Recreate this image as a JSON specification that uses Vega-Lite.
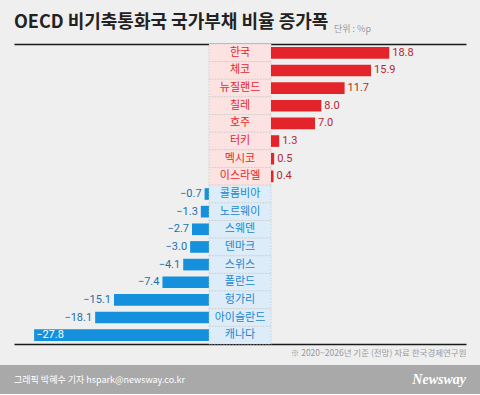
{
  "$schema": "https://vega.github.io/schema/vega-lite/v6.json",
  "background": "#efefef",
  "padding": {"top": 14, "left": 0, "right": 0, "bottom": 0},
  "config": {
    "view": {"stroke": null},
    "axis": {"ticks": false, "labels": false, "grid": false, "domainColor": "#1a1a1a", "domainWidth": 1.5},
    "title": {"font": "Noto Sans CJK KR"}
  },
  "data": {"values": [
    {"country": "한국", "value": 18.8},
    {"country": "체코", "value": 15.9},
    {"country": "뉴질랜드", "value": 11.7},
    {"country": "칠레", "value": 8.0},
    {"country": "호주", "value": 7.0},
    {"country": "터키", "value": 1.3},
    {"country": "멕시코", "value": 0.5},
    {"country": "이스라엘", "value": 0.4},
    {"country": "콜롬비아", "value": -0.7},
    {"country": "노르웨이", "value": -1.3},
    {"country": "스웨덴", "value": -2.7},
    {"country": "덴마크", "value": -3.0},
    {"country": "스위스", "value": -4.1},
    {"country": "폴란드", "value": -7.4},
    {"country": "헝가리", "value": -15.1},
    {"country": "아이슬란드", "value": -18.1},
    {"country": "캐나다", "value": -27.8}
  ]},
  "spacing": 8,
  "vconcat": [
    {
      "bounds": "flush",
      "spacing": 0,
      "resolve": {"scale": {"x": "independent", "y": "independent"}},
      "hconcat": [
        {"width": 14, "height": 300, "mark": {"type": "point", "opacity": 0}, "encoding": {}},
        {
          "width": 195, "height": 300,
          "title": {"text": "OECD 비기축통화국 국가부채 비율 증가폭", "anchor": "start", "frame": "group", "fontSize": 18, "fontWeight": "bold", "color": "#222222", "baseline": "alphabetic", "offset": -2},
          "transform": [{"filter": "datum.value < 0"}],
          "resolve": {"axis": {"x": "independent"}},
          "layer": [
            {
              "mark": {"type": "bar", "color": "#1590dc"},
              "encoding": {
                "y": {"field": "country", "type": "nominal", "sort": null, "axis": null,
                  "scale": {"domain": ["한국","체코","뉴질랜드","칠레","호주","터키","멕시코","이스라엘","콜롬비아","노르웨이","스웨덴","덴마크","스위스","폴란드","헝가리","아이슬란드","캐나다"], "paddingInner": 0.34, "paddingOuter": 0.17}},
                "x": {"field": "value", "type": "quantitative", "scale": {"domain": [-31, 0], "nice": false},
                  "axis": {"orient": "top", "title": null}}
              }
            },
            {
              "transform": [{"filter": "datum.value > -25"}],
              "mark": {"type": "text", "align": "right", "dx": -3, "fontSize": 11, "font": "Roboto", "color": "#1d6fae"},
              "encoding": {
                "y": {"field": "country", "type": "nominal", "sort": null},
                "x": {"field": "value", "type": "quantitative", "axis": {"orient": "bottom", "title": null}},
                "text": {"field": "value", "type": "quantitative", "format": ".1f"}
              }
            },
            {
              "transform": [{"filter": "datum.value <= -25"}],
              "mark": {"type": "text", "align": "left", "dx": 2, "fontSize": 11, "font": "Roboto", "color": "#ffffff"},
              "encoding": {
                "y": {"field": "country", "type": "nominal", "sort": null},
                "x": {"field": "value", "type": "quantitative", "axis": null},
                "text": {"field": "value", "type": "quantitative", "format": ".1f"}
              }
            }
          ]
        },
        {
          "width": 62, "height": 300,
          "resolve": {"axis": {"x": "independent"}},
          "layer": [
            {
              "mark": {"type": "rect", "stroke": "#c9c9c9", "strokeWidth": 0.8, "strokeDash": [1.5, 1.5]},
              "encoding": {
                "y": {"field": "country", "type": "nominal", "sort": null, "axis": null,
                  "scale": {"domain": ["한국","체코","뉴질랜드","칠레","호주","터키","멕시코","이스라엘","콜롬비아","노르웨이","스웨덴","덴마크","스위스","폴란드","헝가리","아이슬란드","캐나다"], "padding": 0}},
                "x": {"datum": 0, "type": "quantitative", "scale": {"domain": [0, 1], "nice": false}, "axis": {"orient": "top", "title": null}},
                "x2": {"datum": 1},
                "fill": {"condition": {"test": "datum.value > 0", "value": "#fde2e2"}, "value": "#dcedf9"}
              }
            },
            {
              "mark": {"type": "text", "fontSize": 11, "font": "Noto Sans CJK KR"},
              "encoding": {
                "y": {"field": "country", "type": "nominal", "sort": null},
                "x": {"datum": 0.5, "type": "quantitative", "axis": {"orient": "bottom", "title": null}},
                "text": {"field": "country"},
                "color": {"condition": {"test": "datum.value > 0", "value": "#e3262c"}, "value": "#1a86d0"},
                "fontWeight": {"condition": {"test": "datum.country === '한국'", "value": "bold"}, "value": "normal"}
              }
            }
          ]
        },
        {
          "width": 195, "height": 300,
          "title": {"text": "단위 : %p", "anchor": "start", "frame": "group", "dx": 63, "fontSize": 9, "fontWeight": "normal", "color": "#9a9a9a", "baseline": "alphabetic", "offset": 3},
          "transform": [{"filter": "datum.value > 0"}],
          "resolve": {"axis": {"x": "independent"}},
          "layer": [
            {
              "mark": {"type": "bar", "color": "#e3242b"},
              "encoding": {
                "y": {"field": "country", "type": "nominal", "sort": null, "axis": null,
                  "scale": {"domain": ["한국","체코","뉴질랜드","칠레","호주","터키","멕시코","이스라엘","콜롬비아","노르웨이","스웨덴","덴마크","스위스","폴란드","헝가리","아이슬란드","캐나다"], "paddingInner": 0.34, "paddingOuter": 0.17}},
                "x": {"field": "value", "type": "quantitative", "scale": {"domain": [0, 31], "nice": false},
                  "axis": {"orient": "top", "title": null}}
              }
            },
            {
              "mark": {"type": "text", "align": "left", "dx": 3, "fontSize": 11, "font": "Roboto", "color": "#b8272c"},
              "encoding": {
                "y": {"field": "country", "type": "nominal", "sort": null},
                "x": {"field": "value", "type": "quantitative",
                  "axis": {"orient": "bottom", "title": "※ 2020~2026년 기준 (전망)   자료  한국경제연구원", "titleAnchor": "end", "titleFontSize": 8.5, "titleFontWeight": "normal", "titleColor": "#9a9a9a", "titlePadding": 4, "titleFont": "Noto Sans CJK KR"}},
                "text": {"field": "value", "type": "quantitative", "format": ".1f"}
              }
            }
          ]
        },
        {"width": 14, "height": 300, "mark": {"type": "point", "opacity": 0}, "encoding": {}}
      ]
    },
    {
      "bounds": "flush",
      "spacing": 0,
      "hconcat": [
        {
          "width": 240, "height": 29,
          "view": {"fill": "#a9a9a9", "stroke": null},
          "title": {"text": "그래픽 박혜수 기자 hspark@newsway.co.kr", "orient": "bottom", "anchor": "start", "dx": 14, "offset": -14, "baseline": "middle", "fontSize": 9, "fontWeight": "normal", "color": "#ffffff"},
          "mark": {"type": "point", "opacity": 0},
          "encoding": {}
        },
        {
          "width": 240, "height": 29,
          "view": {"fill": "#a9a9a9", "stroke": null},
          "title": {"text": "Newsway", "orient": "bottom", "anchor": "end", "dx": -14, "offset": -14, "baseline": "middle", "fontSize": 14, "fontWeight": "bold", "fontStyle": "italic", "font": "Liberation Serif", "color": "#ffffff"},
          "mark": {"type": "point", "opacity": 0},
          "encoding": {}
        }
      ]
    }
  ]
}
